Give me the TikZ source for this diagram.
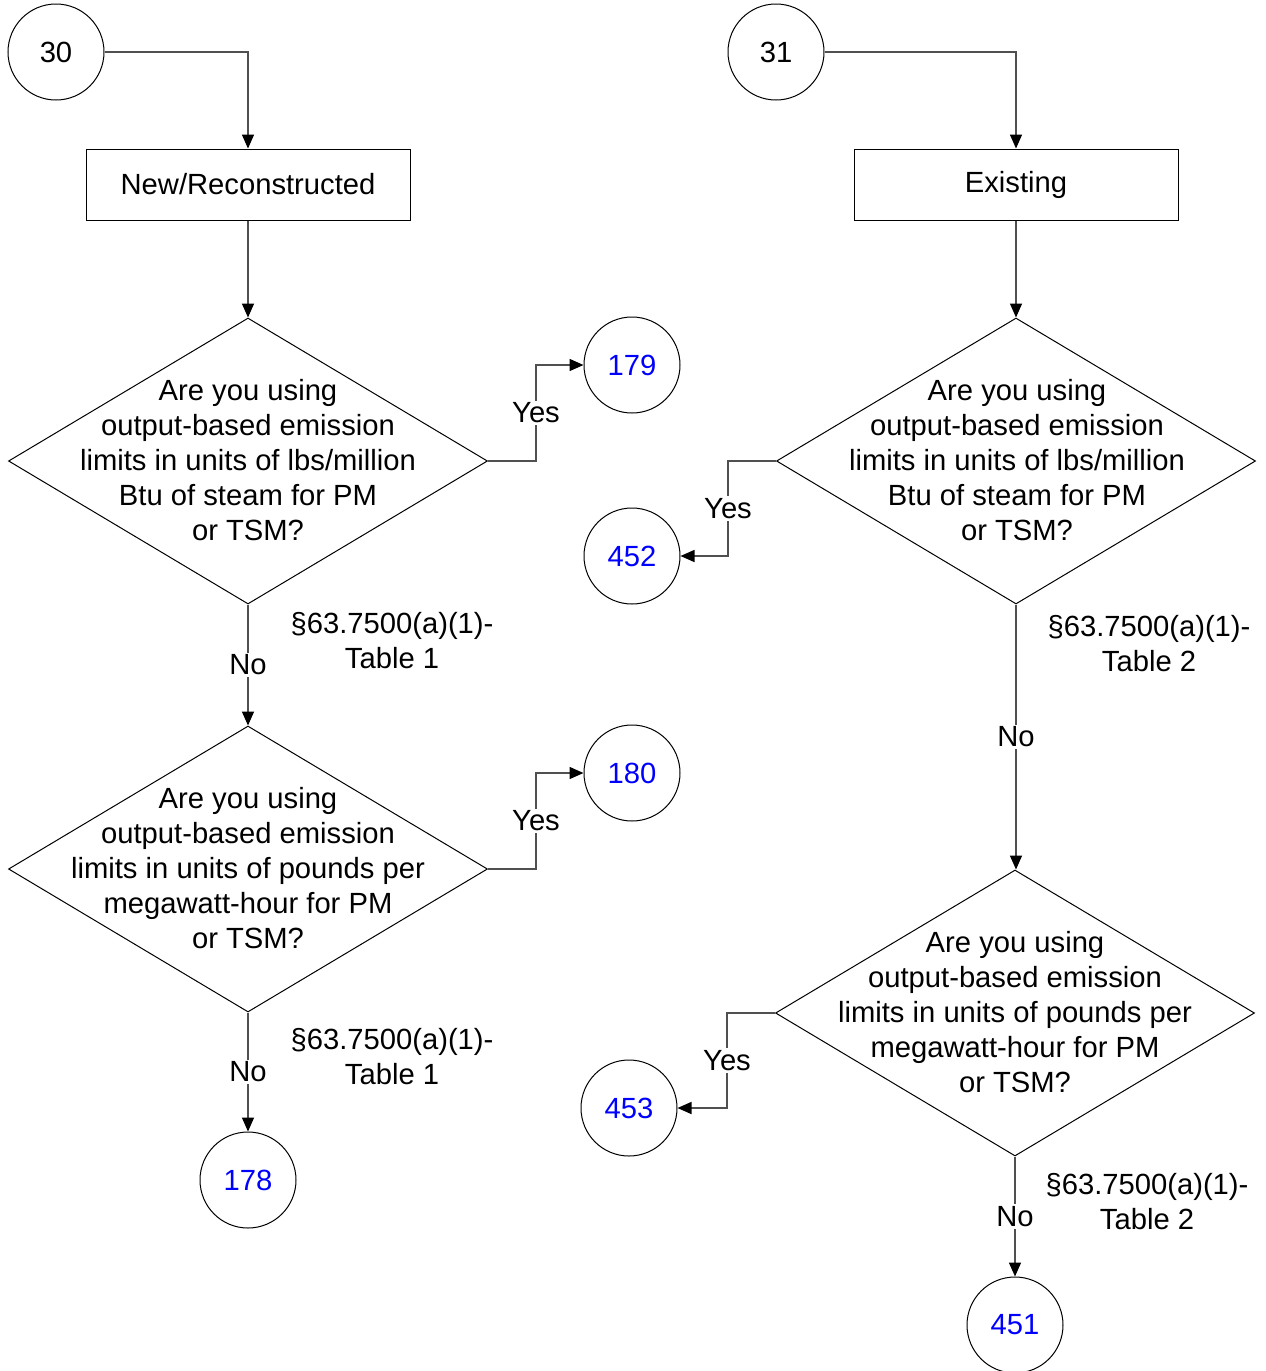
\documentclass[tikz,border=0pt]{standalone}
\usepackage{fontspec}
\setmainfont{Liberation Sans}
\usetikzlibrary{shapes.geometric,arrows.meta}
\definecolor{connc}{RGB}{80,80,80}
\definecolor{numblue}{RGB}{0,0,255}
\begin{document}
\begin{tikzpicture}[x=0.5pt,y=-0.5pt,
  every node/.style={font=\fontsize{14.6}{17.5}\selectfont},
  circ/.style={draw=black,line width=0.5pt,circle,minimum size=48pt,inner sep=0pt},
  blu/.style={text=numblue},
  box/.style={draw=black,line width=0.5pt,rectangle,minimum width=162pt,minimum height=35.5pt,inner sep=0pt},
  dia/.style={draw=black,line width=0.5pt,diamond,minimum width=239.5pt,minimum height=143pt,inner sep=0pt},
  dtext/.style={align=center,inner sep=0pt},
  conn/.style={draw=connc,line width=0.75pt,-{Triangle[length=7pt,width=6pt,color=black]}},
  lbl/.style={fill=white,inner sep=1pt},
  sect/.style={align=center,inner sep=0pt}]
\useasboundingbox (0,0) rectangle (1265,1371);
% left column
\node[circ] (c30) at (56,52) {30};
\node[box] (b1) at (248,184.5) {New/Reconstructed};
\node[dia] (d1) at (248,461) {};
\node[dtext] (t1) at (248,460) {Are you using\\output-based emission\\limits in units of lbs/million\\Btu of steam for PM\\or TSM?};
\node[dia] (d2) at (248,869) {};
\node[dtext] (t2) at (248,868) {Are you using\\output-based emission\\limits in units of pounds per\\megawatt-hour for PM\\or TSM?};
\node[circ,blu] (c179) at (632,365) {179};
\node[circ,blu] (c180) at (632,773) {180};
\node[circ,blu] (c178) at (248,1180) {178};
\node[sect] (s1) at (392,641) {§63.7500(a)(1)-\\Table 1};
\node[sect] (s2) at (392,1057) {§63.7500(a)(1)-\\Table 1};
% right column
\node[circ] (c31) at (776,52) {31};
\node[box] (b2) at (1016,184.5) {Existing};
\node[dia] (d3) at (1016,461) {};
\node[dtext] (t3) at (1017,460) {Are you using\\output-based emission\\limits in units of lbs/million\\Btu of steam for PM\\or TSM?};
\node[dia] (d4) at (1015,1013) {};
\node[dtext] (t4) at (1015,1012) {Are you using\\output-based emission\\limits in units of pounds per\\megawatt-hour for PM\\or TSM?};
\node[circ,blu] (c452) at (632,556) {452};
\node[circ,blu] (c453) at (629,1108) {453};
\node[circ,blu] (c451) at (1015,1325) {451};
\node[sect] (s3) at (1149,644) {§63.7500(a)(1)-\\Table 2};
\node[sect] (s4) at (1147,1202) {§63.7500(a)(1)-\\Table 2};
% connectors
\draw[conn] (c30) -| (b1);
\draw[conn] (c31) -| (b2);
\draw[conn] (b1) -- (d1);
\draw[conn] (b2) -- (d3);
\draw[conn] (d1.east) -- ++(48,0) |- node[lbl,pos=0.25] (y1) {Yes} (c179);
\draw[conn] (d2.east) -- ++(48,0) |- node[lbl,pos=0.25] (y2) {Yes} (c180);
\draw[conn] (d3.west) -- ++(-48,0) |- node[lbl,pos=0.25] (y3) {Yes} (c452);
\draw[conn] (d4.west) -- ++(-48,0) |- node[lbl,pos=0.25] (y4) {Yes} (c453);
\draw[conn] (d1.south) -- node[lbl] (n1) {No} (d2.north);
\draw[conn] (d2.south) -- node[lbl] (n2) {No} (c178);
\draw[conn] (d3.south) -- node[lbl] (n3) {No} (d3.south |- d4.north);
\draw[conn] (d4.south) -- node[lbl] (n4) {No} (c451);
\end{tikzpicture}
\end{document}
